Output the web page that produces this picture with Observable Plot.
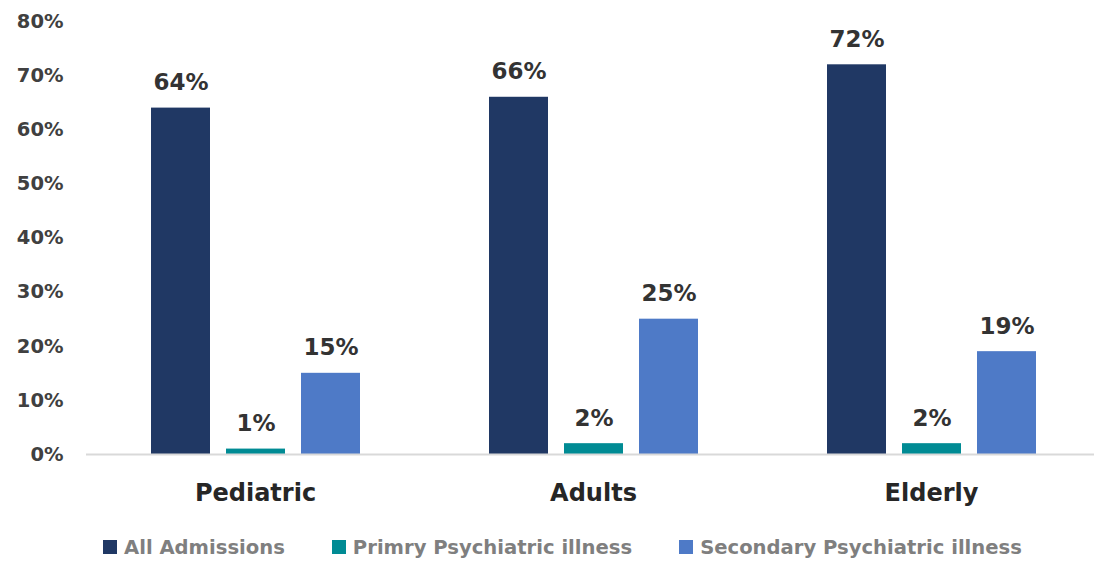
<!DOCTYPE html>
<html>
<head>
<meta charset="utf-8">
<script src="https://cdn.jsdelivr.net/npm/d3@7"></script>
<script src="https://cdn.jsdelivr.net/npm/@observablehq/plot@0.6"></script>
<style>
  html, body { margin: 0; padding: 0; background: #fff; }
  body { width: 1094px; height: 561px; overflow: hidden; font-family: "DejaVu Sans", sans-serif; }
  #legend { display: flex; align-items: center; padding-left: 103px; height: 44px; font-weight: 700; font-size: 19.6px; color: #7f7f7f; }
  #legend .item { display: flex; align-items: center; margin-right: 47px; }
  #legend .sw { width: 14px; height: 14px; margin-right: 7px; }
</style>
</head>
<body>
<div id="chart"></div>
<div id="legend"></div>
<script>
const categories = ["Pediatric", "Adults", "Elderly"];
const seriesNames = ["All Admissions", "Primry Psychiatric illness", "Secondary Psychiatric illness"];
const allAdmissions = [64, 66, 72];
const primaryIllness = [1, 2, 2];
const secondaryIllness = [15, 25, 19];
const yTicks = [0, 10, 20, 30, 40, 50, 60, 70, 80];
const seriesColors = ["#203864", "#008b94", "#4e7ac7"];

const seriesValues = [allAdmissions, primaryIllness, secondaryIllness];
const data = [];
categories.forEach((c, i) => {
  seriesNames.forEach((s, j) => {
    data.push({category: c, series: s, value: seriesValues[j][i]});
  });
});

const chart = Plot.plot({
  width: 1094,
  height: 525,
  marginLeft: 85,
  marginRight: -7,
  marginTop: 21,
  marginBottom: 71,
  style: {fontFamily: "'DejaVu Sans', sans-serif", background: "#fff"},
  fx: {domain: categories, padding: 0, label: null},
  x: {domain: seriesNames, paddingInner: 0.22, paddingOuter: 0.85, axis: null},
  y: {domain: [0, 80], axis: null},
  color: {domain: seriesNames, range: seriesColors},
  marks: [
    Plot.barY(data, {fx: "category", x: "series", y: "value", fill: "series"}),
    Plot.ruleY([0], {stroke: "#d9d9d9", strokeWidth: 2}),
    Plot.text(data, {fx: "category", x: "series", y: "value", text: d => d.value + "%",
      lineAnchor: "bottom", dy: -18, fontSize: 23, fontWeight: 700, fill: "#333333"}),
    Plot.axisY(yTicks, {anchor: "left", tickSize: 0, tickPadding: 23, tickFormat: d => d + "%",
      fontSize: 19.5, fontWeight: 700, fill: "#404040", label: null}),
    Plot.axisFx({anchor: "bottom", tickSize: 0, tickPadding: 29, fontSize: 24, fontWeight: 700,
      fill: "#262626", label: null})
  ]
});
document.getElementById("chart").appendChild(chart);

const legend = document.getElementById("legend");
seriesNames.forEach((s, i) => {
  const item = document.createElement("div");
  item.className = "item";
  const sw = document.createElement("div");
  sw.className = "sw";
  sw.style.background = seriesColors[i];
  const t = document.createElement("span");
  t.textContent = s;
  item.appendChild(sw);
  item.appendChild(t);
  legend.appendChild(item);
});
</script>
</body>
</html>
